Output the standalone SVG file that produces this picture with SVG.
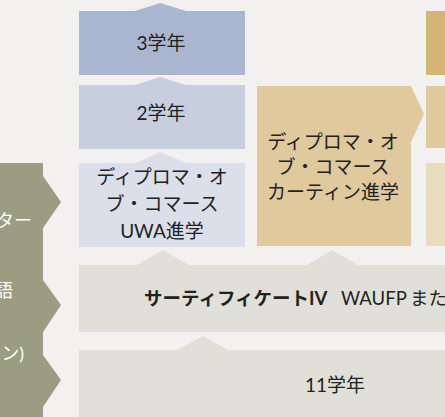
<svg xmlns="http://www.w3.org/2000/svg" width="445" height="417" viewBox="0 0 445 417">
<style>
.t{font-family:Lato,"Noto Sans CJK JP",sans-serif;font-size:19px;fill:#222;text-anchor:middle}
.w{font-family:Lato,"Noto Sans CJK JP",sans-serif;font-size:18px;fill:#fff;text-anchor:end}
</style>
<rect width="445" height="417" fill="#f2f1ef"/>
<g id="left-green">
<path d="M0,163H43V176L61,202L43,228V280L61,305L43,332V355L61,380L43,407V417H0Z" fill="#9a9d81"/>
<text class="w" x="32" y="227">ター</text>
<text class="w" x="13" y="297">語</text>
<text class="w" x="24" y="360">ン)</text>
</g>
<g id="year3">
<path d="M79,11H135L160,3L186,11H245V75H79Z" fill="#aab6cf"/>
<text class="t" x="161" y="50">3学年</text>
</g>
<g id="year2">
<path d="M79,85H135L160,77L186,85H245V149H79Z" fill="#c7cede"/>
<text class="t" x="161" y="120">2学年</text>
</g>
<g id="uwa">
<path d="M79,163H136L160,152L186,163H245V247H79Z" fill="#dadfea"/>
<text class="t" x="162" y="184">ディプロマ・オ</text>
<text class="t" x="162" y="211">ブ・コマース</text>
<text class="t" x="162" y="238">UWA進学</text>
</g>
<g id="curtin">
<path d="M257,86H411L424,114L411,142V246H257Z" fill="#e0c99c"/>
<text class="t" x="333" y="149">ディプロマ・オ</text>
<text class="t" x="333" y="174">ブ・コマース</text>
<text class="t" x="333" y="199">カーティン進学</text>
</g>
<g id="right-col">
<rect x="426" y="11" width="19" height="64" fill="#d4b477"/>
<rect x="426" y="86" width="19" height="62" fill="#e0c99c"/>
<rect x="426" y="163" width="19" height="83" fill="#e9dbbd"/>
</g>
<g id="cert4">
<path d="M79,265H137L163,250L189,265H307L332,250L358,265H445V332H79Z" fill="#e0e0d8"/>
<text class="t" x="144" y="305" style="text-anchor:start;font-size:18.5px"><tspan font-weight="bold">サーティフィケートIV</tspan><tspan x="341">WAUFP</tspan><tspan x="410">また</tspan></text>
</g>
<g id="year11">
<path d="M79,350H177L203,336L228,350H445V417H79Z" fill="#e0e0d8"/>
<text class="t" x="335" y="392">11学年</text>
</g>
</svg>
